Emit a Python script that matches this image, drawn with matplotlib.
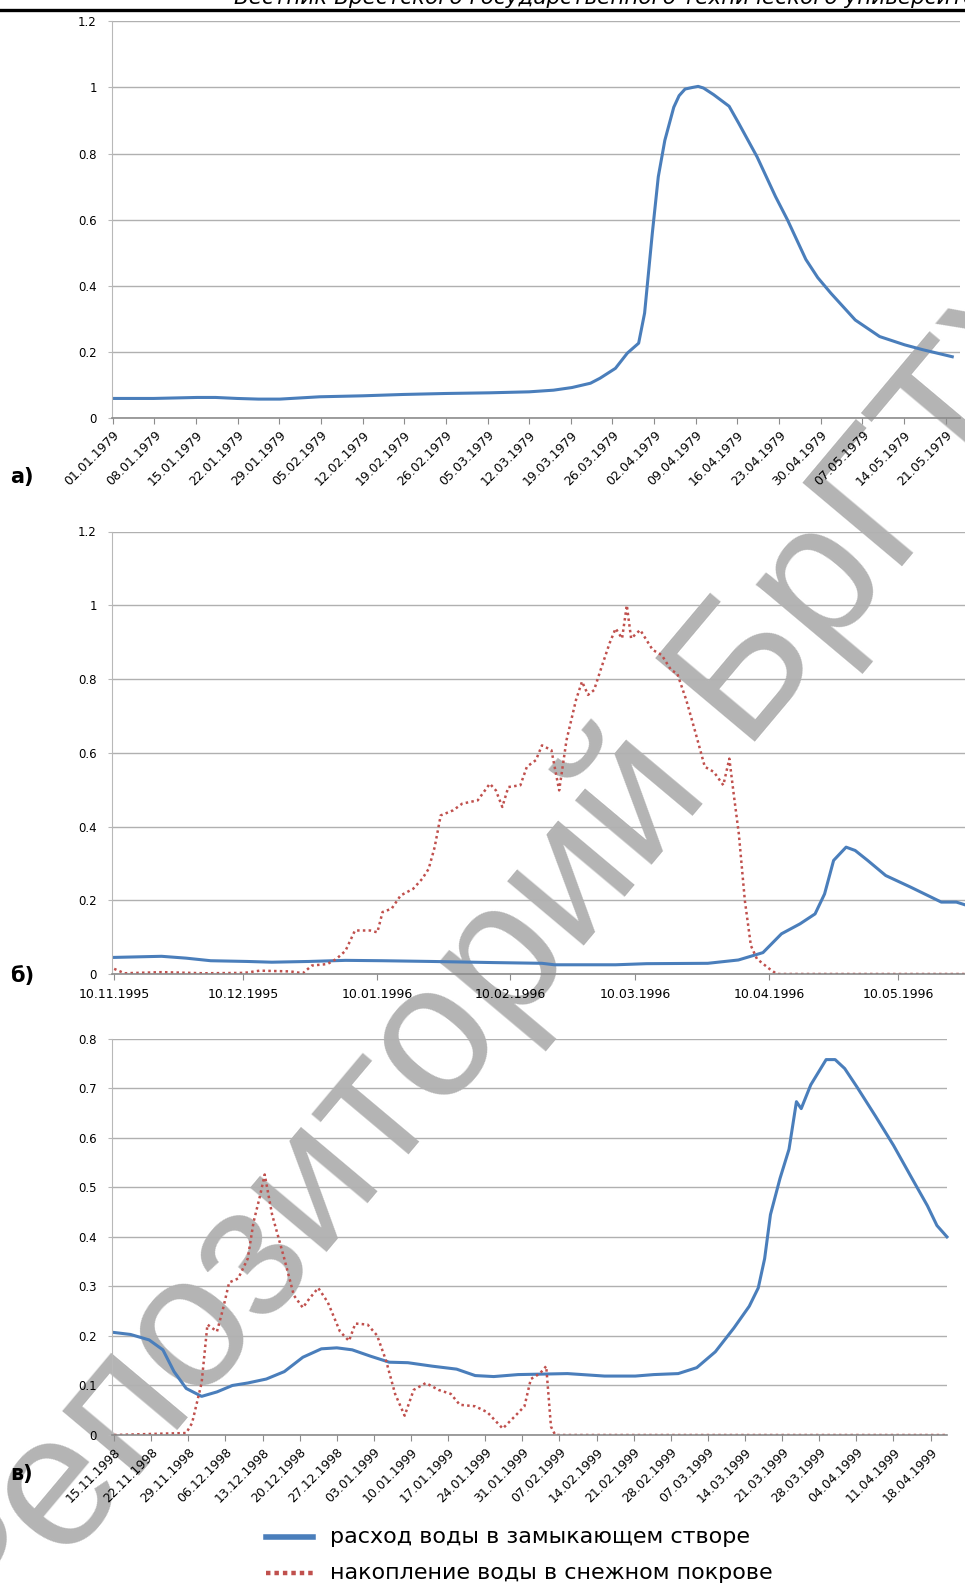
import numpy as np
import pandas as pd
import matplotlib
matplotlib.use('Agg')
import matplotlib.pyplot as plt
from matplotlib.lines import Line2D

# panel a) 1979: days since 01.01.1979, normalised discharge
a_start = '1979-01-01'
a_day = [0, 6.9, 14.2, 17.3, 20.9, 24.5, 28.1, 34.8, 42.1, 48.8, 56.0, 63.3, 70.0, 74.1,
         77.2, 80.3, 81.9, 84.5, 86.5, 88.4, 89.4, 90.7, 91.7, 92.8, 94.3, 95.2, 96.2,
         97.5, 98.4, 99.3, 101.0, 103.6, 105.2, 108.3, 111.4, 113.4, 116.5, 118.5,
         120.7, 124.8, 128.9, 133.1, 136.2, 141.1]
a_flow = [0.060, 0.060, 0.063, 0.063, 0.060, 0.058, 0.058, 0.065, 0.068, 0.072, 0.075,
          0.077, 0.080, 0.085, 0.093, 0.106, 0.121, 0.151, 0.197, 0.227, 0.318, 0.56,
          0.73, 0.84, 0.94, 0.975, 0.995, 1.0, 1.003, 0.998, 0.978, 0.943, 0.892, 0.79,
          0.67, 0.60, 0.48, 0.425, 0.378, 0.297, 0.247, 0.222, 0.207, 0.186]

# panel б) 1995-1996: days since 10.11.1995
b_start = '1995-11-10'
b_flow_day = [0, 11.0, 16.7, 22.4, 30.9, 36.6, 45.2, 53.7, 62.3, 73.7, 87.9, 99.3, 102.2,
              116.4, 123.6, 137.8, 144.9, 150.6, 154.9, 159.2, 162.7, 164.9, 167.0,
              169.9, 172.0, 174.9, 179.1, 184.8, 192.0, 195.5, 197.4]
b_flow = [0.045, 0.048, 0.043, 0.036, 0.034, 0.032, 0.034, 0.037, 0.036, 0.034, 0.031,
          0.029, 0.025, 0.025, 0.028, 0.029, 0.038, 0.058, 0.109, 0.136, 0.163, 0.217,
          0.308, 0.344, 0.335, 0.308, 0.267, 0.236, 0.195, 0.195, 0.188]
b_snow_day = [0, 2.4, 11.0, 20.9, 30.2, 33.8, 40.9, 43.8, 45.9, 49.5, 51.6, 53.7, 55.9,
              59.4, 61.1, 62.3, 64.4, 66.5, 69.4, 71.5, 73.0, 74.4, 75.8, 78.7, 80.8,
              84.4, 87.2, 88.6, 90.1, 91.5, 94.3, 95.8, 97.9, 99.3, 101.5, 103.3, 105.0,
              107.2, 108.6, 110.0, 111.4, 112.9, 115.0, 116.4, 117.9, 119.0, 120.0,
              122.1, 125.0, 127.1, 129.3, 130.7, 132.8, 135.0, 137.1, 139.2, 141.4,
              142.8, 143.8, 145.0, 146.4, 147.8, 149.2, 152.1, 153.8, 197.4]
b_snow = [0.014, 0.002, 0.005, 0.002, 0.003, 0.009, 0.007, 0.002, 0.023, 0.027, 0.041,
          0.063, 0.118, 0.118, 0.113, 0.168, 0.177, 0.213, 0.231, 0.258, 0.285, 0.344,
          0.430, 0.444, 0.462, 0.471, 0.516, 0.498, 0.453, 0.507, 0.512, 0.562, 0.580,
          0.620, 0.607, 0.498, 0.634, 0.743, 0.793, 0.757, 0.770, 0.824, 0.897, 0.937,
          0.910, 1.000, 0.910, 0.933, 0.879, 0.865, 0.824, 0.815, 0.743, 0.652, 0.562,
          0.548, 0.512, 0.584, 0.489, 0.380, 0.199, 0.077, 0.041, 0.014, 0.0, 0.0]
b_ticks = ['1995-11-10', '1995-12-10', '1996-01-10', '1996-02-10', '1996-03-10',
           '1996-04-10', '1996-05-10']

# panel в) 1998-1999: days since 15.11.1998
c_start = '1998-11-15'
c_flow_day = [0, 3.1, 6.6, 9.2, 11.3, 13.6, 16.5, 19.4, 22.3, 25.2, 28.7, 32.1, 35.6,
              39.1, 42.0, 44.9, 48.4, 51.9, 55.4, 60.0, 64.6, 68.1, 71.6, 76.2, 80.9,
              85.5, 92.5, 98.3, 101.8, 106.4, 109.9, 113.4, 116.9, 119.8, 121.5, 122.7,
              123.8, 125.6, 127.3, 128.7, 129.6, 131.4, 134.3, 136.0, 137.8, 140.1,
              143.6, 147.0, 150.5, 153.4, 155.2, 157.1]
c_flow = [0.207, 0.203, 0.192, 0.172, 0.128, 0.094, 0.078, 0.087, 0.100, 0.105, 0.113,
          0.128, 0.157, 0.174, 0.176, 0.172, 0.159, 0.147, 0.146, 0.139, 0.133, 0.120,
          0.118, 0.122, 0.123, 0.124, 0.119, 0.119, 0.122, 0.124, 0.136, 0.168, 0.216,
          0.260, 0.297, 0.356, 0.445, 0.518, 0.577, 0.673, 0.659, 0.707, 0.758, 0.758,
          0.740, 0.703, 0.644, 0.585, 0.518, 0.463, 0.423, 0.400]
c_snow_day = [0, 6.6, 13.6, 14.7, 16.5, 17.6, 19.4, 20.5, 21.7, 23.4, 25.2, 26.3, 27.5,
              28.4, 29.8, 32.1, 33.9, 35.6, 36.8, 38.5, 40.3, 42.6, 44.3, 45.5, 47.8,
              49.6, 51.3, 53.0, 54.8, 56.5, 58.8, 61.2, 63.5, 65.2, 68.1, 70.4, 73.3,
              75.7, 77.4, 78.6, 80.3, 81.5, 82.4, 83.2, 157.1]
c_snow = [0.0, 0.002, 0.004, 0.024, 0.105, 0.223, 0.209, 0.253, 0.308, 0.316, 0.356,
          0.430, 0.482, 0.526, 0.445, 0.356, 0.282, 0.257, 0.275, 0.297, 0.268, 0.209,
          0.190, 0.225, 0.223, 0.201, 0.150, 0.083, 0.039, 0.091, 0.105, 0.091, 0.083,
          0.061, 0.058, 0.046, 0.013, 0.039, 0.058, 0.113, 0.124, 0.139, 0.017, 0.0, 0.0]

panel_labels = ['а)', 'б)', 'в)']
legend_labels = ['расход воды в замыкающем створе', 'накопление воды в снежном покрове']
header = 'Вестник Брестского государственного технического университета'
watermark = 'Репозиторий БрГТУ'

W, H = 965, 1584
BLUE = '#4a7ebb'
RED = '#c0504d'
GRID = '#b0b0b0'
plt.rcParams['font.family'] = ['DejaVu Sans']


def to_dates(start, days):
    return pd.Timestamp(start) + pd.to_timedelta(np.array(days, dtype=float), unit='D')


def rect(l, t, r, b):
    return [l / W, 1 - b / H, (r - l) / W, (b - t) / H]


def style_axes(ax, ymax, ystep):
    ax.set_facecolor('none')
    ax.set_ylim(0, ymax)
    yt = np.round(np.arange(0, ymax + ystep / 2, ystep), 2)
    ax.set_yticks(yt)
    ax.set_yticklabels(['0' if v == 0 else ('%g' % v) for v in yt])
    ax.grid(axis='y', color=GRID, lw=1.0)
    ax.set_axisbelow(True)
    for s in ['top', 'right']:
        ax.spines[s].set_visible(False)
    ax.spines['left'].set_color('#b8b8b8')
    ax.spines['bottom'].set_color('#8c8c8c')
    ax.spines['bottom'].set_linewidth(1.2)
    ax.tick_params(axis='y', length=3, color='#b8b8b8', pad=8, labelsize=8.5)
    ax.tick_params(axis='x', length=4, color='#8c8c8c', labelsize=9)


fig = plt.figure(figsize=(W / 100, H / 100), dpi=100)

# watermark behind the charts (axes backgrounds are transparent)
fig.text(549 / W, 1 - 988 / H, watermark, family=['Liberation Sans', 'DejaVu Sans'],
         fontsize=136, color='#b4b4b4', rotation=50, ha='center', va='baseline',
         rotation_mode='anchor', zorder=-1)

# journal header (cut at the top edge)
fig.text(234 / W, 1 - 3.5 / H, header, fontsize=15.5, style='italic', va='baseline')
fig.add_artist(Line2D([0, 1], [1 - 10 / H, 1 - 10 / H], color='black', lw=2.4))

# а)
ax1 = fig.add_axes(rect(112, 21.2, 960, 418.3))
style_axes(ax1, 1.2, 0.2)
ax1.plot(to_dates(a_start, a_day), a_flow, color=BLUE, lw=2.2)
ticks_a = pd.date_range(a_start, periods=21, freq='7D')
ax1.set_xticks(ticks_a)
ax1.set_xticklabels(ticks_a.strftime('%d.%m.%Y'), rotation=45, ha='right',
                    rotation_mode='anchor')
ax1.set_xlim(to_dates(a_start, [-0.1, 142.4]))

# б)
ax2 = fig.add_axes(rect(112, 531.5, 965, 974))
style_axes(ax2, 1.2, 0.2)
ax2.plot(to_dates(b_start, b_flow_day), b_flow, color=BLUE, lw=2.2)
ax2.plot(to_dates(b_start, b_snow_day), b_snow, color=RED, lw=1.8,
         linestyle=(0, (1, 1.3)))
ticks_b = pd.to_datetime(b_ticks)
ax2.set_xticks(ticks_b)
ax2.set_xticklabels(ticks_b.strftime('%d.%m.%Y'))
ax2.tick_params(axis='x', pad=6)
ax2.set_xlim(to_dates(b_start, [-0.5, 197.5]))

# в)
ax3 = fig.add_axes(rect(112, 1038.8, 947, 1435))
style_axes(ax3, 0.8, 0.1)
ax3.plot(to_dates(c_start, c_flow_day), c_flow, color=BLUE, lw=2.2, clip_on=False)
ax3.plot(to_dates(c_start, c_snow_day), c_snow, color=RED, lw=1.8,
         linestyle=(0, (1, 1.3)))
ticks_c = pd.date_range(c_start, periods=23, freq='7D')
ax3.set_xticks(ticks_c)
ax3.set_xticklabels(ticks_c.strftime('%d.%m.%Y'), rotation=45, ha='right',
                    rotation_mode='anchor')
ax3.set_xlim(to_dates(c_start, [-0.4, 157.1]))

for lab, yc in zip(panel_labels, [477, 976, 1474]):
    fig.text(10 / W, 1 - yc / H, lab, fontsize=15, fontweight='bold',
             va='center', ha='left')

# legend
ly = [1537, 1573]
fig.add_artist(Line2D([266 / W, 313 / W], [1 - ly[0] / H] * 2, color=BLUE, lw=4))
fig.add_artist(Line2D([266 / W, 313 / W], [1 - ly[1] / H] * 2, color=RED, lw=3.2,
                      linestyle=(0, (1, 0.9))))
for lab, yy in zip(legend_labels, ly):
    fig.text(330 / W, 1 - yy / H, lab, fontsize=16, va='center', ha='left')

plt.savefig('out.png', dpi=100)
plt.close()
